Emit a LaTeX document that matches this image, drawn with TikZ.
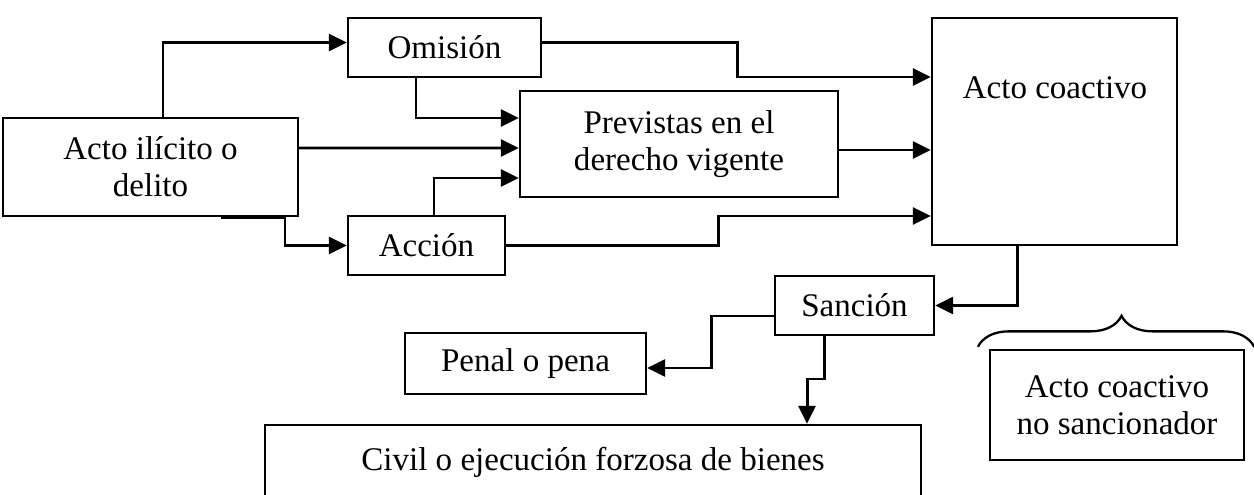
\documentclass[tikz,border=0pt]{standalone}
\usepackage{fontspec}
\setmainfont{Liberation Serif}
\usepackage{tikz}
\usetikzlibrary{positioning}
\usetikzlibrary{arrows.meta}
\usetikzlibrary{calc}
\usetikzlibrary{decorations.pathreplacing}

\begin{document}
\begin{tikzpicture} [
            box/.style={draw, line width=1.3pt, inner sep=0pt, align=center, font=\fontsize{18.8}{21}\selectfont},
            conn/.style={line width=1.7pt, -{Triangle[length=0.36cm,width=0.34cm]}},
            brc/.style={decorate, decoration={brace, amplitude=0.62cm, aspect=0.52}, line width=1.3pt}
        ]
        \useasboundingbox (0,0) rectangle (25.08,-9.9);
        % boxes
        \node[box, minimum width=5.9cm, minimum height=1.96cm] (ilicito) at (3.01,-3.34) {Acto ilícito o\\delito};
        \node[box, minimum width=3.86cm, minimum height=1.18cm] (omision) at (8.89,-0.95) {Omisión};
        \node[box, minimum width=6.36cm, minimum height=2.12cm] (previstas) at (13.58,-2.88) {Previstas en el\\derecho vigente};
        \node[box, minimum width=3.14cm, minimum height=1.18cm] (accion) at (8.53,-4.91) {Acción};
        \node[box, minimum width=4.9cm, minimum height=4.54cm] (coactivo) at (21.09,-2.63) {};
        \node[box, draw=none] (coactivotxt) at (21.1,-1.76) {Acto coactivo};
        \node[box, minimum width=3.18cm, minimum height=1.18cm] (sancion) at (17.09,-6.11) {Sanción};
        \node[box, minimum width=4.82cm, minimum height=1.22cm] (penal) at (10.51,-7.27) {Penal o pena};
        \node[box, minimum width=13.12cm, minimum height=1.48cm] (civil) at (11.86,-9.24) {Civil o ejecución forzosa de bienes};
        \node[box, minimum width=5.08cm, minimum height=2.2cm] (nosanc) at (22.34,-8.1) {Acto coactivo\\no sancionador};

        % bends
        \coordinate (bendI) at (5.7,-4.91);
        \coordinate (bendO) at (14.74,-1.54);
        \coordinate (bendA) at (14.36,-4.32);
        \coordinate (bendP) at (14.22,-7.36);
        \coordinate (bendC) at (16.14,-7.58);

        \draw[conn] ([xshift=0.25cm]ilicito.north) |- ([yshift=0.1cm]omision.west);
        \draw[conn] ([yshift=0.38cm]ilicito.east) -- ([yshift=-0.08cm]previstas.west);
        \draw[conn] ([xshift=-1.56cm]ilicito.south east) -| (bendI) -- (accion.west);
        \draw[conn] ([xshift=-0.57cm]omision.south) |- ([yshift=0.52cm]previstas.west);
        \draw[conn] ([xshift=0.15cm]accion.north) |- ([yshift=-0.68cm]previstas.west);
        \draw[conn] ([yshift=0.1cm]omision.east) -| (bendO) -- (bendO -| coactivo.west);
        \draw[conn] ([yshift=-0.12cm]previstas.east) -- ([yshift=-0.37cm]coactivo.west);
        \draw[conn] (accion.east) -| (bendA) -- (bendA -| coactivo.west);
        \draw[conn] ([xshift=-0.75cm]coactivo.south) |- (sancion.east);
        \draw[conn] ([yshift=-0.21cm]sancion.west) -| (bendP) -- (bendP -| penal.east);
        \draw[conn] ([xshift=-0.61cm]sancion.south) |- (bendC) -- (bendC |- civil.north);

        \draw[brc] ([xshift=-0.22cm,yshift=0.04cm]nosanc.north west) -- ([xshift=0.18cm,yshift=0.04cm]nosanc.north east);
    \end{tikzpicture}
\end{document}
